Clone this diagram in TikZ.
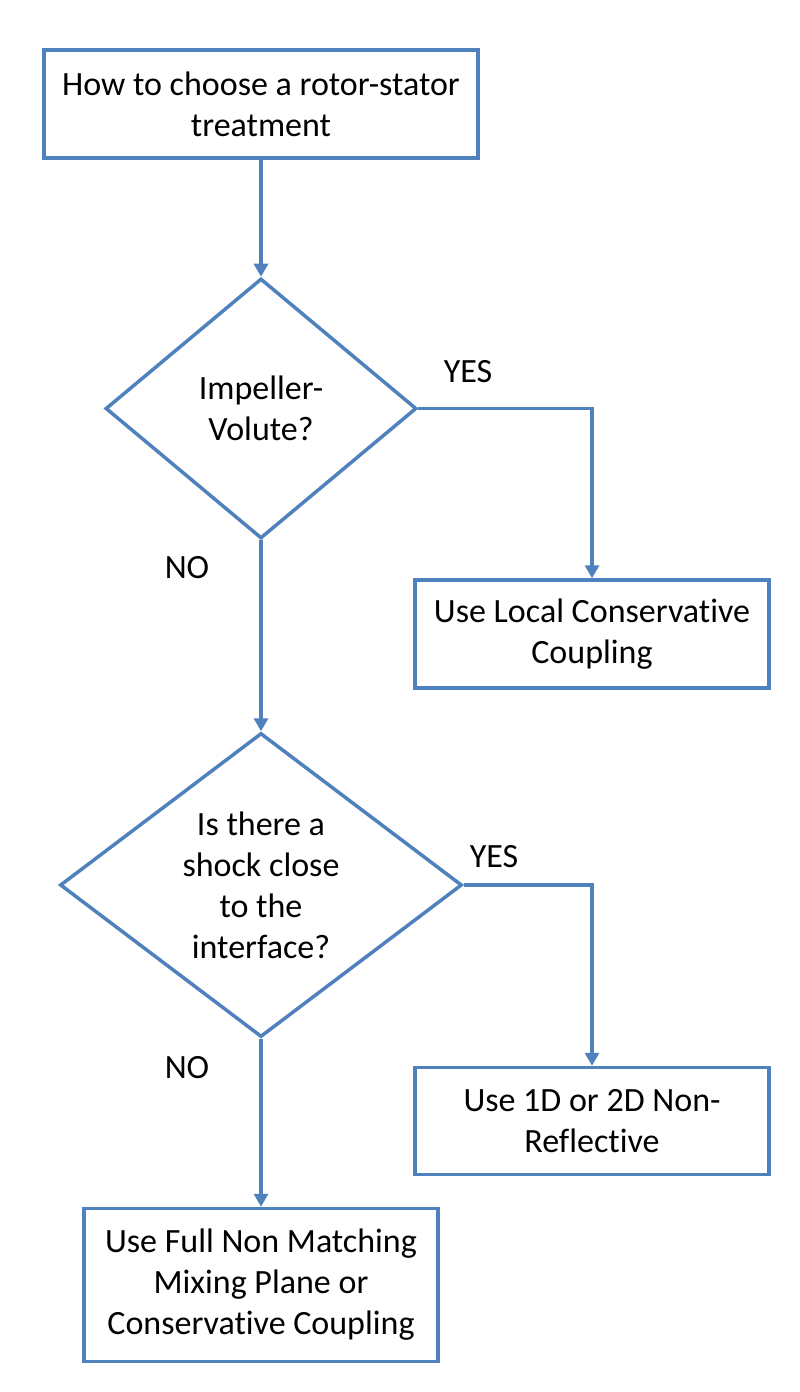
\documentclass[tikz,border=0pt]{standalone}
\usepackage{fontspec}
\setmainfont{Carlito}[Ligatures=NoCommon]
\usetikzlibrary{arrows.meta,positioning,shapes.geometric}
\definecolor{flowblue}{HTML}{4F81BD}

\begin{document}
\begin{tikzpicture}[
  x=1pt, y=-1pt,
  box/.style={draw=flowblue, line width=3.5pt, fill=white, align=center, font=\fontsize{34}{41}\selectfont, inner sep=0pt},
  decision/.style={diamond, draw=flowblue, line width=3.5pt, fill=white, align=center, font=\fontsize{34}{41}\selectfont, inner sep=0pt, aspect=1.3},
  lbl/.style={font=\fontsize{34}{40}\selectfont},
  arr/.style={-{Triangle[length=13pt, width=14pt]}, draw=flowblue, line width=3.5pt}
]
\useasboundingbox (0,0) rectangle (800,1392);

\node[box, minimum width=434pt, minimum height=108pt] (start) at (261,104) {How to choose a rotor-stator\\treatment};
\node[decision, minimum width=311pt, minimum height=260pt, below=117pt of start] (impeller) {Impeller-\\Volute?};
\node[box, minimum width=354pt, minimum height=108pt] (local) at (592,634) {Use Local Conservative\\Coupling};
\node[decision, minimum width=402pt, minimum height=304pt, below=191pt of impeller] (shock) {Is there a\\shock close\\to the\\interface?};
\node[box, minimum width=354pt, minimum height=107pt] (nonrefl) at (592,1121) {Use 1D or 2D Non-\\Reflective};
\node[box, minimum width=354pt, minimum height=153pt, below=168pt of shock] (mixing) {Use Full Non Matching\\Mixing Plane or\\Conservative Coupling};

\node[lbl] (yes1) at (468,372) {YES};
\node[lbl] (no1) at (187,568) {NO};
\node[lbl] (yes2) at (494,857) {YES};
\node[lbl] (no2) at (187,1068) {NO};

\draw[arr] (start) -- (impeller);
\draw[arr] (impeller.east) -| (local.north);
\draw[arr] (impeller) -- (shock);
\draw[arr] (shock.east) -| (nonrefl.north);
\draw[arr] (shock) -- (mixing);
\end{tikzpicture}
\end{document}
